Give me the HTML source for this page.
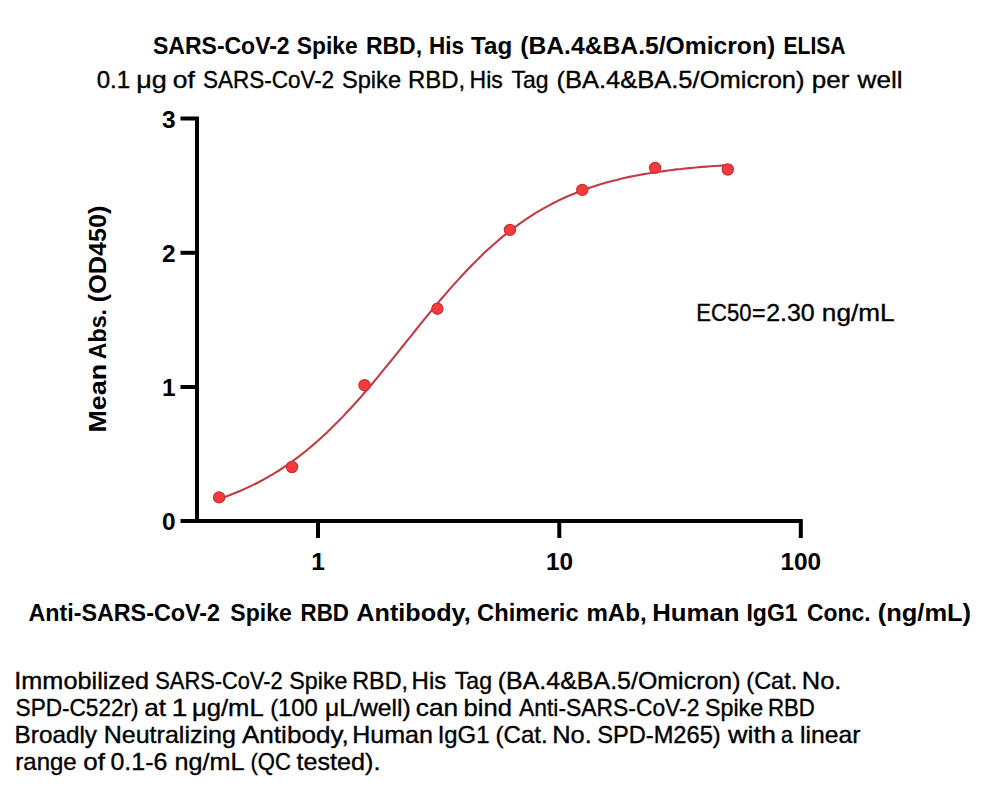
<!DOCTYPE html>
<html><head><meta charset="utf-8"><style>
html,body{margin:0;padding:0;background:#fff;width:1000px;height:786px;overflow:hidden}
svg{display:block}
text{font-family:"Liberation Sans",sans-serif;fill:#000}
.r text{stroke:#000;stroke-width:0.35}
</style></head><body>
<svg width="1000" height="786" viewBox="0 0 1000 786">
<rect width="1000" height="786" fill="#fff"/>
<g font-size="24.8" font-weight="bold">
<text x="153.04" y="53.6" textLength="136.63" lengthAdjust="spacingAndGlyphs">SARS-CoV-2</text>
<text x="296.84" y="53.6" textLength="60.94" lengthAdjust="spacingAndGlyphs">Spike</text>
<text x="365.97" y="53.6" textLength="56.07" lengthAdjust="spacingAndGlyphs">RBD,</text>
<text x="429.10" y="53.6" textLength="34.92" lengthAdjust="spacingAndGlyphs">His</text>
<text x="471.03" y="53.6" textLength="41.19" lengthAdjust="spacingAndGlyphs">Tag</text>
<text x="520.27" y="53.6" textLength="254.96" lengthAdjust="spacingAndGlyphs">(BA.4&amp;BA.5/Omicron)</text>
<text x="783.59" y="53.6" textLength="61.96" lengthAdjust="spacingAndGlyphs">ELISA</text>
</g>
<g font-size="24" class="r">
<text x="96.66" y="88" textLength="33.52" lengthAdjust="spacingAndGlyphs">0.1</text>
<text x="136.18" y="88" textLength="30.56" lengthAdjust="spacingAndGlyphs">μg</text>
<text x="172.89" y="88" textLength="22.07" lengthAdjust="spacingAndGlyphs">of</text>
<text x="202.98" y="88" textLength="131.15" lengthAdjust="spacingAndGlyphs">SARS-CoV-2</text>
<text x="341.93" y="88" textLength="59.12" lengthAdjust="spacingAndGlyphs">Spike</text>
<text x="408.04" y="88" textLength="57.11" lengthAdjust="spacingAndGlyphs">RBD,</text>
<text x="469.61" y="88" textLength="33.22" lengthAdjust="spacingAndGlyphs">His</text>
<text x="511.48" y="88" textLength="36.99" lengthAdjust="spacingAndGlyphs">Tag</text>
<text x="556.42" y="88" textLength="248.16" lengthAdjust="spacingAndGlyphs">(BA.4&amp;BA.5/Omicron)</text>
<text x="811.82" y="88" textLength="37.61" lengthAdjust="spacingAndGlyphs">per</text>
<text x="857.64" y="88" textLength="44.91" lengthAdjust="spacingAndGlyphs">well</text>
</g>
<g font-size="24.4" font-weight="bold">
<text x="28.42" y="620.6" textLength="191.51" lengthAdjust="spacingAndGlyphs">Anti-SARS-CoV-2</text>
<text x="230.34" y="620.6" textLength="61.45" lengthAdjust="spacingAndGlyphs">Spike</text>
<text x="300.50" y="620.6" textLength="48.43" lengthAdjust="spacingAndGlyphs">RBD</text>
<text x="356.37" y="620.6" textLength="114.31" lengthAdjust="spacingAndGlyphs">Antibody,</text>
<text x="477.03" y="620.6" textLength="101.67" lengthAdjust="spacingAndGlyphs">Chimeric</text>
<text x="586.41" y="620.6" textLength="60.20" lengthAdjust="spacingAndGlyphs">mAb,</text>
<text x="652.28" y="620.6" textLength="87.32" lengthAdjust="spacingAndGlyphs">Human</text>
<text x="746.46" y="620.6" textLength="51.18" lengthAdjust="spacingAndGlyphs">IgG1</text>
<text x="807.06" y="620.6" textLength="63.51" lengthAdjust="spacingAndGlyphs">Conc.</text>
<text x="877.73" y="620.6" textLength="93.34" lengthAdjust="spacingAndGlyphs">(ng/mL)</text>
</g>
<g font-size="24" class="r">
<text x="696.29" y="321.4" textLength="55.17" lengthAdjust="spacingAndGlyphs">EC50</text>
<text x="751.96" y="321.4" textLength="13.58" lengthAdjust="spacingAndGlyphs">=</text>
<text x="766.25" y="321.4" textLength="48.48" lengthAdjust="spacingAndGlyphs">2.30</text>
<text x="821.86" y="321.4" textLength="72.81" lengthAdjust="spacingAndGlyphs">ng/mL</text>
</g>
<g font-size="24" transform="translate(105.6,0) rotate(-90)" font-weight="bold">
<text x="-432.50" y="0" textLength="68.66" lengthAdjust="spacingAndGlyphs">Mean</text>
<text x="-359.18" y="0" textLength="50.17" lengthAdjust="spacingAndGlyphs">Abs.</text>
<text x="-302.15" y="0" textLength="96.51" lengthAdjust="spacingAndGlyphs">(OD450)</text>
</g>
<g font-size="23.2" class="r">
<text x="14.27" y="688.6" textLength="134.86" lengthAdjust="spacingAndGlyphs">Immobilized</text>
<text x="155.31" y="688.6" textLength="127.39" lengthAdjust="spacingAndGlyphs">SARS-CoV-2</text>
<text x="289.34" y="688.6" textLength="58.19" lengthAdjust="spacingAndGlyphs">Spike</text>
<text x="352.29" y="688.6" textLength="55.71" lengthAdjust="spacingAndGlyphs">RBD,</text>
<text x="411.63" y="688.6" textLength="34.63" lengthAdjust="spacingAndGlyphs">His</text>
<text x="454.78" y="688.6" textLength="37.21" lengthAdjust="spacingAndGlyphs">Tag</text>
<text x="497.75" y="688.6" textLength="242.80" lengthAdjust="spacingAndGlyphs">(BA.4&amp;BA.5/Omicron)</text>
<text x="746.34" y="688.6" textLength="50.90" lengthAdjust="spacingAndGlyphs">(Cat.</text>
<text x="801.81" y="688.6" textLength="39.61" lengthAdjust="spacingAndGlyphs">No.</text>
</g>
<g font-size="23.2" class="r">
<text x="15.57" y="716" textLength="123.03" lengthAdjust="spacingAndGlyphs">SPD-C522r)</text>
<text x="144.19" y="716" textLength="21.80" lengthAdjust="spacingAndGlyphs">at</text>
<text x="171.76" y="716" textLength="15.61" lengthAdjust="spacingAndGlyphs">1</text>
<text x="191.97" y="716" textLength="71.78" lengthAdjust="spacingAndGlyphs">μg/mL</text>
<text x="270.23" y="716" textLength="47.50" lengthAdjust="spacingAndGlyphs">(100</text>
<text x="325.03" y="716" textLength="85.70" lengthAdjust="spacingAndGlyphs">μL/well)</text>
<text x="415.79" y="716" textLength="42.32" lengthAdjust="spacingAndGlyphs">can</text>
<text x="463.55" y="716" textLength="48.40" lengthAdjust="spacingAndGlyphs">bind</text>
<text x="519.06" y="716" textLength="180.39" lengthAdjust="spacingAndGlyphs">Anti-SARS-CoV-2</text>
<text x="704.94" y="716" textLength="58.19" lengthAdjust="spacingAndGlyphs">Spike</text>
<text x="767.98" y="716" textLength="46.88" lengthAdjust="spacingAndGlyphs">RBD</text>
</g>
<g font-size="23.2" class="r">
<text x="14.61" y="743" textLength="82.34" lengthAdjust="spacingAndGlyphs">Broadly</text>
<text x="103.65" y="743" textLength="132.27" lengthAdjust="spacingAndGlyphs">Neutralizing</text>
<text x="241.95" y="743" textLength="106.90" lengthAdjust="spacingAndGlyphs">Antibody,</text>
<text x="352.15" y="743" textLength="80.68" lengthAdjust="spacingAndGlyphs">Human</text>
<text x="437.70" y="743" textLength="51.77" lengthAdjust="spacingAndGlyphs">IgG1</text>
<text x="495.61" y="743" textLength="52.09" lengthAdjust="spacingAndGlyphs">(Cat.</text>
<text x="552.21" y="743" textLength="39.61" lengthAdjust="spacingAndGlyphs">No.</text>
<text x="597.23" y="743" textLength="123.44" lengthAdjust="spacingAndGlyphs">SPD-M265)</text>
<text x="728.04" y="743" textLength="47.91" lengthAdjust="spacingAndGlyphs">with</text>
<text x="780.99" y="743" textLength="11.91" lengthAdjust="spacingAndGlyphs">a</text>
<text x="800.04" y="743" textLength="60.37" lengthAdjust="spacingAndGlyphs">linear</text>
</g>
<g font-size="23.2" class="r">
<text x="15.31" y="769.6" textLength="61.36" lengthAdjust="spacingAndGlyphs">range</text>
<text x="83.31" y="769.6" textLength="21.65" lengthAdjust="spacingAndGlyphs">of</text>
<text x="110.53" y="769.6" textLength="56.77" lengthAdjust="spacingAndGlyphs">0.1-6</text>
<text x="174.53" y="769.6" textLength="70.01" lengthAdjust="spacingAndGlyphs">ng/mL</text>
<text x="250.54" y="769.6" textLength="40.30" lengthAdjust="spacingAndGlyphs">(QC</text>
<text x="296.52" y="769.6" textLength="83.88" lengthAdjust="spacingAndGlyphs">tested).</text>
</g>
<g stroke="#000" stroke-width="4" fill="none" stroke-linecap="butt">
<path d="M180.5,118.6 H197 V521 H800.8 V538"/>
<path d="M180.5,252.8 H197"/>
<path d="M180.5,387 H197"/>
<path d="M180.5,521 H197"/>
<path d="M318,521 V538"/>
<path d="M559.3,521 V538"/>
</g>
<g font-size="24.4" font-weight="bold">
<text x="162" y="128">3</text>
<text x="162" y="262">2</text>
<text x="162" y="396">1</text>
<text x="162" y="530">0</text>
<text x="318" y="570" text-anchor="middle">1</text>
<text x="559.5" y="570" text-anchor="middle">10</text>
<text x="800.8" y="570" text-anchor="middle">100</text>
</g>
<polyline points="219.1,498.9 223.4,497.4 227.6,495.9 231.9,494.3 236.2,492.6 240.5,490.8 244.7,488.9 249.0,486.9 253.3,484.9 257.6,482.7 261.8,480.5 266.1,478.1 270.4,475.7 274.7,473.1 278.9,470.5 283.2,467.7 287.5,464.8 291.8,461.8 296.0,458.6 300.3,455.4 304.6,452.0 308.9,448.5 313.1,444.9 317.4,441.2 321.7,437.3 326.0,433.4 330.2,429.3 334.5,425.1 338.8,420.8 343.1,416.4 347.3,411.8 351.6,407.2 355.9,402.5 360.2,397.7 364.4,392.8 368.7,387.8 373.0,382.7 377.3,377.6 381.5,372.4 385.8,367.2 390.1,362.0 394.4,356.7 398.6,351.3 402.9,346.0 407.2,340.7 411.5,335.3 415.7,330.0 420.0,324.7 424.3,319.4 428.6,314.2 432.8,309.0 437.1,303.9 441.4,298.8 445.7,293.9 449.9,288.9 454.2,284.1 458.5,279.4 462.8,274.7 467.0,270.2 471.3,265.8 475.6,261.4 479.9,257.2 484.1,253.1 488.4,249.1 492.7,245.3 497.0,241.5 501.2,237.9 505.5,234.4 509.8,231.0 514.1,227.8 518.3,224.6 522.6,221.6 526.9,218.7 531.2,215.9 535.4,213.2 539.7,210.6 544.0,208.2 548.3,205.8 552.5,203.5 556.8,201.4 561.1,199.3 565.4,197.3 569.6,195.5 573.9,193.7 578.2,192.0 582.5,190.3 586.7,188.8 591.0,187.3 595.3,185.9 599.6,184.6 603.8,183.3 608.1,182.1 612.4,180.9 616.7,179.9 620.9,178.8 625.2,177.8 629.5,176.9 633.8,176.0 638.0,175.2 642.3,174.4 646.6,173.7 650.9,173.0 655.1,172.3 659.4,171.7 663.7,171.1 668.0,170.5 672.2,170.0 676.5,169.4 680.8,169.0 685.1,168.5 689.3,168.1 693.6,167.7 697.9,167.3 702.2,166.9 706.4,166.6 710.7,166.3 715.0,166.0 719.3,165.7 723.5,165.4 727.8,165.1" fill="none" stroke="#c53a44" stroke-width="2.1"/>
<g fill="#f73b3b" stroke="#c4303a" stroke-width="1.2">
<circle cx="219.1" cy="497.4" r="5.6"/>
<circle cx="292" cy="467" r="5.6"/>
<circle cx="364.5" cy="385.2" r="5.6"/>
<circle cx="437.4" cy="308.7" r="5.6"/>
<circle cx="509.9" cy="229.9" r="5.6"/>
<circle cx="582.3" cy="189.9" r="5.6"/>
<circle cx="655.1" cy="167.9" r="5.6"/>
<circle cx="727.8" cy="169.5" r="5.6"/>
</g>
</svg>
</body></html>
